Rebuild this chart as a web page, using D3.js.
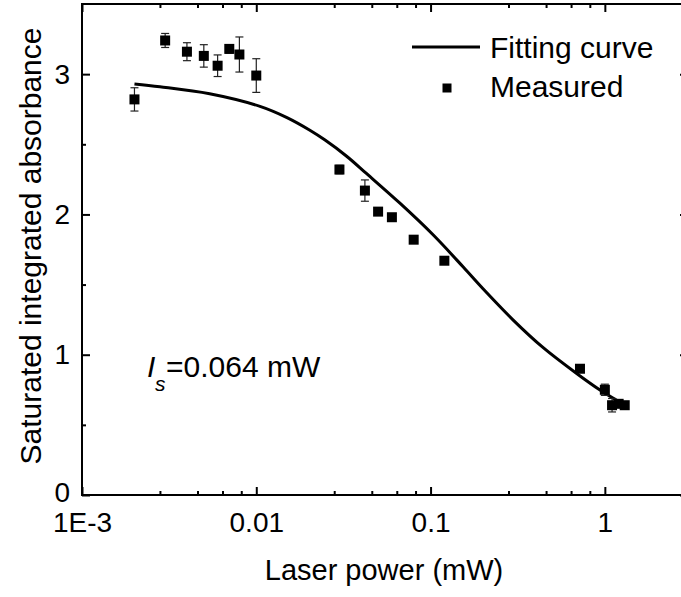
<!DOCTYPE html>
<html>
<head>
<meta charset="utf-8">
<script src="https://cdn.jsdelivr.net/npm/d3@7"></script>
<style>
  html, body { margin: 0; padding: 0; background: #fff; }
  svg { display: block; font-family: "Liberation Sans", Arial, sans-serif; }
</style>
</head>
<body>
<div id="chart"></div>
<script>
// measured points: laser power (mW), absorbance, error
const power = [0.002, 0.003, 0.004, 0.005, 0.006, 0.007, 0.008, 0.01,
  0.03, 0.042, 0.05, 0.06, 0.08, 0.12, 0.72, 1.0, 1.1, 1.2, 1.3];
const absorb = [2.82, 3.24, 3.16, 3.13, 3.06, 3.18, 3.14, 2.99,
  2.32, 2.17, 2.02, 1.98, 1.82, 1.67, 0.90, 0.75, 0.64, 0.65, 0.64];
const errs = [0.083, 0.05, 0.064, 0.08, 0.077, 0.03, 0.125, 0.12,
  0.03, 0.076, 0.02, 0.02, 0.02, 0.02, 0.02, 0.04, 0.048, 0.02, 0.02];

// fitting curve
const fitP = [0.002, 0.0028, 0.0054, 0.0105, 0.015, 0.0203, 0.0248, 0.033, 0.043, 0.0667,
  0.1037, 0.154, 0.2, 0.298, 0.443, 0.689, 0.933, 1.17, 1.3];
const fitA = [2.93, 2.91, 2.86, 2.77, 2.69, 2.60, 2.53, 2.415, 2.29, 2.08,
  1.853, 1.625, 1.47, 1.247, 1.05, 0.866, 0.75, 0.675, 0.643];

const xTicks = [0.001, 0.01, 0.1, 1];
const xTickLabels = ["1E-3", "0.01", "0.1", "1"];
const yTicks = [0, 1, 2, 3];
const yMinor = [0.5, 1.5, 2.5];
const minorSteps = [2.8, 4.6, 6.4, 8.2];

const W = 681, H = 597;
const svg = d3.select("#chart").append("svg").attr("width", W).attr("height", H);

const x = d3.scaleLog().domain([0.001, 3]).range([82, 688]);
const y = d3.scaleLinear().domain([0, 3.5]).range([495, 4]);
const xMinor = [0.001, 0.01, 0.1, 1].flatMap(d => minorSteps.map(s => d * s)).filter(v => v < 3);

const axisStyle = g => {
  g.select(".domain").remove();
  g.selectAll(".tick line").attr("stroke", "#000").attr("stroke-width", 2);
  g.selectAll("text").attr("fill", "#000").style("font-size", "28px")
    .style("font-family", "'Liberation Sans', Arial, sans-serif");
};

// bottom
svg.append("g").attr("transform", "translate(0,495)")
  .call(d3.axisBottom(x).tickValues(xTicks).tickSize(-8).tickPadding(17)
    .tickFormat((d, i) => xTickLabels[i])).call(axisStyle);
svg.append("g").attr("transform", "translate(0,495)")
  .call(d3.axisBottom(x).tickValues(xMinor).tickSize(-4).tickFormat("")).call(axisStyle);
// top
svg.append("g").attr("transform", "translate(0,4)")
  .call(d3.axisTop(x).tickValues(xTicks).tickSize(-8).tickFormat("")).call(axisStyle);
svg.append("g").attr("transform", "translate(0,4)")
  .call(d3.axisTop(x).tickValues(xMinor).tickSize(-4).tickFormat("")).call(axisStyle);
// left
svg.append("g").attr("transform", "translate(82,0)")
  .call(d3.axisLeft(y).tickValues(yTicks).tickSize(-8).tickPadding(12).tickFormat(d3.format("d")))
  .call(axisStyle)
  .selectAll(".tick text").attr("dy", d => d === 0 ? "0.22em" : "0.32em");
svg.append("g").attr("transform", "translate(82,0)")
  .call(d3.axisLeft(y).tickValues(yMinor).tickSize(-4).tickFormat("")).call(axisStyle);
// right
svg.append("g").attr("transform", "translate(688,0)")
  .call(d3.axisRight(y).tickValues(yTicks).tickSize(-8).tickFormat("")).call(axisStyle);
svg.append("g").attr("transform", "translate(688,0)")
  .call(d3.axisRight(y).tickValues(yMinor).tickSize(-4).tickFormat("")).call(axisStyle);

// frame
svg.append("rect").attr("x", x.range()[0]).attr("y", y.range()[1])
  .attr("width", x.range()[1] - x.range()[0]).attr("height", y.range()[0] - y.range()[1])
  .attr("fill", "none").attr("stroke", "#000").attr("stroke-width", 2);

// fitting curve
const line = d3.line().x(d => x(d[0])).y(d => y(d[1])).curve(d3.curveCatmullRom.alpha(0.5));
svg.append("path").datum(fitP.map((p, i) => [p, fitA[i]])).attr("d", line)
  .attr("fill", "none").attr("stroke", "#000").attr("stroke-width", 3);

// error bars + squares
const pts = power.map((p, i) => ({ p, a: absorb[i], e: errs[i] }));
const eb = svg.append("g").attr("stroke", "#222").attr("stroke-width", 1.2);
pts.forEach(d => {
  const cx = x(d.p), y1 = y(d.a + d.e), y2 = y(d.a - d.e);
  eb.append("line").attr("x1", cx).attr("x2", cx).attr("y1", y1).attr("y2", y2);
  eb.append("line").attr("x1", cx - 4).attr("x2", cx + 4).attr("y1", y1).attr("y2", y1);
  eb.append("line").attr("x1", cx - 4).attr("x2", cx + 4).attr("y1", y2).attr("y2", y2);
});
svg.append("g").selectAll("rect").data(pts).join("rect")
  .attr("x", d => x(d.p) - 5).attr("y", d => y(d.a) - 5)
  .attr("width", 10).attr("height", 10).attr("fill", "#000");

// axis titles
svg.append("text").attr("x", 384).attr("y", 580).attr("text-anchor", "middle")
  .style("font-size", "29px").text("Laser power (mW)");
svg.append("text").attr("transform", "translate(41,246) rotate(-90)").attr("text-anchor", "middle")
  .style("font-size", "30px").text("Saturated integrated absorbance");

// legend
svg.append("line").attr("x1", 412).attr("x2", 480).attr("y1", 47).attr("y2", 47)
  .attr("stroke", "#000").attr("stroke-width", 3);
svg.append("text").attr("x", 490).attr("y", 58).style("font-size", "30px").text("Fitting curve");
svg.append("rect").attr("x", 442.5).attr("y", 83.5).attr("width", 9).attr("height", 9).attr("fill", "#000");
svg.append("text").attr("x", 490).attr("y", 97).style("font-size", "30px").text("Measured");

// annotation
svg.append("text").attr("x", 147).attr("y", 377).style("font-size", "30px")
  .style("font-style", "italic").text("I");
svg.append("text").attr("x", 155).attr("y", 391).style("font-size", "21px")
  .style("font-style", "italic").text("s");
svg.append("text").attr("x", 166).attr("y", 377).style("font-size", "30px").text("=0.064 mW");
</script>
</body>
</html>
